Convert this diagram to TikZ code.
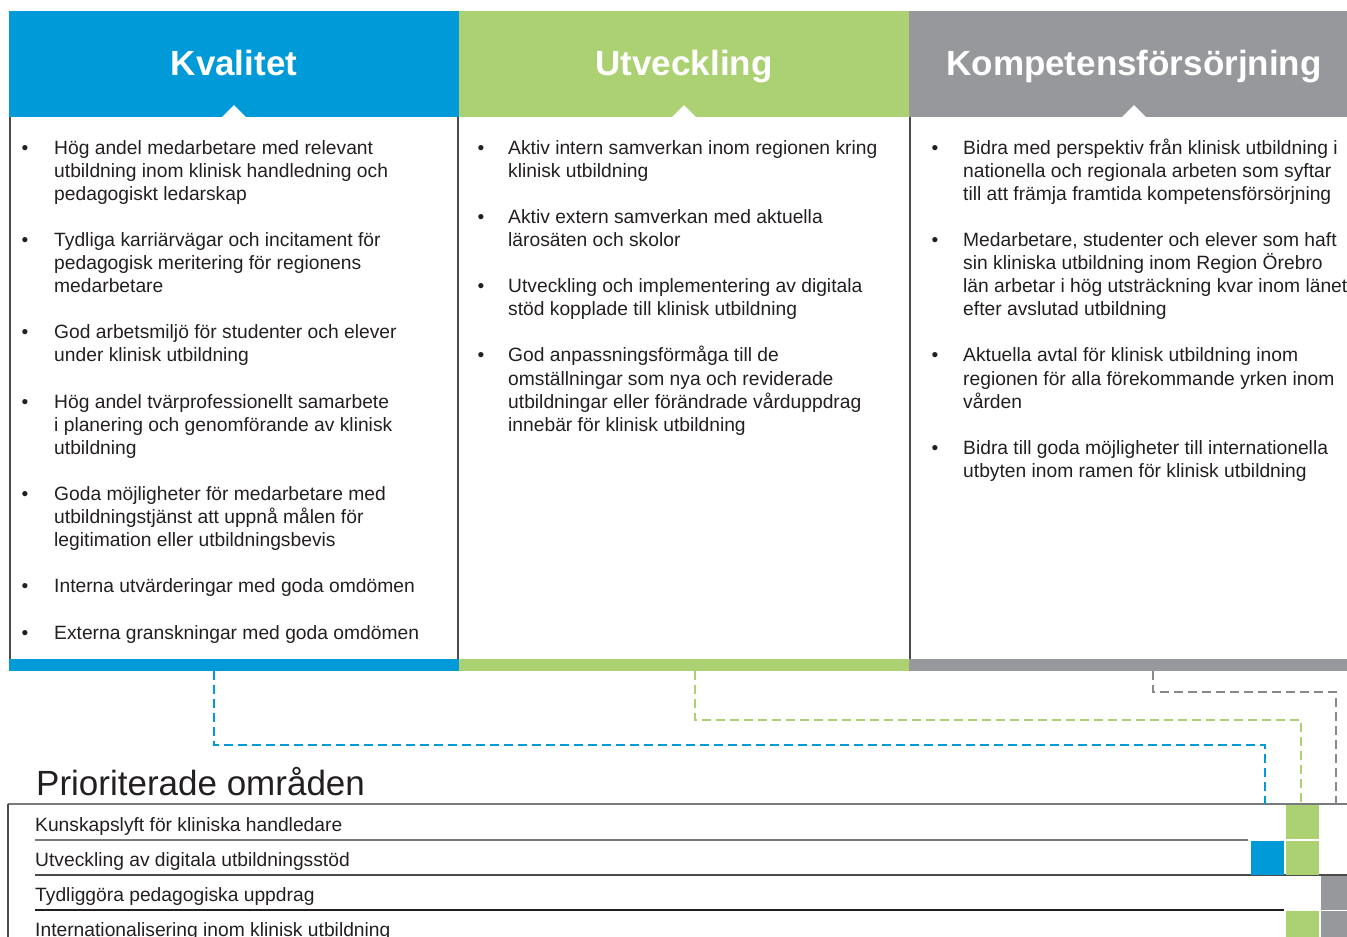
\documentclass[tikz,border=0pt]{standalone}
\usepackage{fontspec}
\setmainfont{Liberation Sans}
\definecolor{kblue}{HTML}{009AD9}
\definecolor{ugreen}{HTML}{ABD173}
\definecolor{cgray}{HTML}{97989C}
\definecolor{ink}{HTML}{231F20}
\definecolor{rule}{HTML}{4A4A4A}
\newcommand{\itemlines}[1]{\begin{tabular}[t]{@{}l@{}}#1\end{tabular}}
\tikzset{
    head/.style={fill=#1, minimum width=450pt, minimum height=106pt, inner sep=0pt,
        text=white, font=\fontsize{35}{40}\selectfont\bfseries, text height=25pt, text depth=3pt},
    bar/.style={fill=#1, minimum width=450pt, minimum height=12pt, inner sep=0pt},
    item/.style={anchor=base west, inner sep=0pt, text=ink,
        font=\fontsize{19.25}{23.1}\selectfont},
    dot/.style={anchor=base, inner sep=0pt, text=ink, font=\fontsize{19.25}{23.1}\selectfont},
    cell/.style={fill=#1, minimum width=33pt, minimum height=34pt, inner sep=0pt},
    link/.style={draw=#1, line width=1.6pt, dash pattern=on 9pt off 5pt},
}

\begin{document}
\begin{tikzpicture}[x=1pt, y=-1pt]
    \useasboundingbox (0,0) rectangle (1347,937);

    \def\lh{23.1}
    \def\top{154}

    % headers with notch
    \node[head=kblue]  (kval) at (234,64)  {Kvalitet};
    \node[head=ugreen] (utv)  at (684,64)  {Utveckling};
    \node[head=cgray]  (komp) at (1134,64) {Kompetensförsörjning};
    \foreach \h in {kval,utv,komp}
        \fill[white] ([xshift=-12pt]\h.south) -- ([yshift=12pt]\h.south) -- ([xshift=12pt]\h.south) -- cycle;

    % bottom bars
    \node[bar=kblue]  (kbar) at (234,665)  {};
    \node[bar=ugreen] (ubar) at (684,665)  {};
    \node[bar=cgray]  (cbar) at (1134,665) {};

    \draw[rule, line width=1.2pt] (10,117) -- (10,659) (458,117) -- (458,659) (910,117) -- (910,659);

    % Kvalitet
    \foreach \n/\txt [count=\i] in {
        0/{Hög andel medarbetare med relevant\\utbildning inom klinisk handledning och\\pedagogiskt ledarskap},
        4/{Tydliga karriärvägar och incitament för\\pedagogisk meritering för regionens\\medarbetare},
        8/{God arbetsmiljö för studenter och elever\\under klinisk utbildning},
        11/{Hög andel tvärprofessionellt samarbete\\i planering och genomförande av klinisk\\utbildning},
        15/{Goda möjligheter för medarbetare med\\utbildningstjänst att uppnå målen för\\legitimation eller utbildningsbevis},
        19/{Interna utvärderingar med goda omdömen},
        21/{Externa granskningar med goda omdömen}}{
        \node[dot]  (kd\i) at (25,\top+\n*\lh) {\textbullet};
        \node[item] (k\i)  at (54,\top+\n*\lh) {\itemlines{\txt}};
    }

    % Utveckling
    \foreach \n/\txt [count=\i] in {
        0/{Aktiv intern samverkan inom regionen kring\\klinisk utbildning},
        3/{Aktiv extern samverkan med aktuella\\lärosäten och skolor},
        6/{Utveckling och implementering av digitala\\stöd kopplade till klinisk utbildning},
        9/{God anpassningsförmåga till de\\omställningar som nya och reviderade\\utbildningar eller förändrade vårduppdrag\\innebär för klinisk utbildning}}{
        \node[dot]  (ud\i) at (481,\top+\n*\lh) {\textbullet};
        \node[item] (u\i)  at (508,\top+\n*\lh) {\itemlines{\txt}};
    }

    % Kompetensförsörjning
    \foreach \n/\txt [count=\i] in {
        0/{Bidra med perspektiv från klinisk utbildning i\\nationella och regionala arbeten som syftar\\till att främja framtida kompetensförsörjning},
        4/{Medarbetare, studenter och elever som haft\\sin kliniska utbildning inom Region Örebro\\län arbetar i hög utsträckning kvar inom länet\\efter avslutad utbildning},
        9/{Aktuella avtal för klinisk utbildning inom\\regionen för alla förekommande yrken inom\\vården},
        13/{Bidra till goda möjligheter till internationella\\utbyten inom ramen för klinisk utbildning}}{
        \node[dot]  (cd\i) at (935,\top+\n*\lh) {\textbullet};
        \node[item] (c\i)  at (963,\top+\n*\lh) {\itemlines{\txt}};
    }

    % prioriterade områden
    \node[item, font=\fontsize{35}{40}\selectfont] (prio) at (36,795) {Prioriterade områden};
    \draw[cgray!80!black, line width=1.3pt] (8,804) -- (1347,804);
    \draw[rule, line width=1.2pt] (8,804) -- (8,937);

    \node[item] (p1) at (35,831) {Kunskapslyft för kliniska handledare};
    \node[item] (p2) at (35,866) {Utveckling av digitala utbildningsstöd};
    \node[item] (p3) at (35,901) {Tydliggöra pedagogiska uppdrag};
    \node[item] (p4) at (35,936) {Internationalisering inom klinisk utbildning};

    \draw[cgray!80!black, line width=1.2pt] (35,840) -- (1248,840);
    \draw[rule, line width=1.2pt] (35,875) -- (1347,875);
    \draw[ink, line width=1.2pt] (35,910) -- (1284,910);

    \node[cell=ugreen] (r1u) at (1302.5,822) {};
    \node[cell=kblue]  (r2k) at (1267.5,858) {};
    \node[cell=ugreen] (r2u) at (1302.5,858) {};
    \node[cell=cgray]  (r3c) at (1337.5,893) {};
    \node[cell=ugreen] (r4u) at (1302.5,928) {};
    \node[cell=cgray]  (r4c) at (1337.5,928) {};

    % dashed links
    \coordinate (kfrom) at (214,671);
    \coordinate (ufrom) at (695,671);
    \coordinate (cfrom) at (1153,671);
    \coordinate (kto) at (1265,804);
    \coordinate (uto) at (1301,804);
    \coordinate (cto) at (1336,804);
    \draw[link=kblue]  (kfrom) -- ++(0,74) -| (kto);
    \draw[link=ugreen] (ufrom) -- ++(0,49) -| (uto);
    \draw[link=cgray!90!black] (cfrom) -- ++(0,21) -| (cto);

\end{tikzpicture}
\end{document}
